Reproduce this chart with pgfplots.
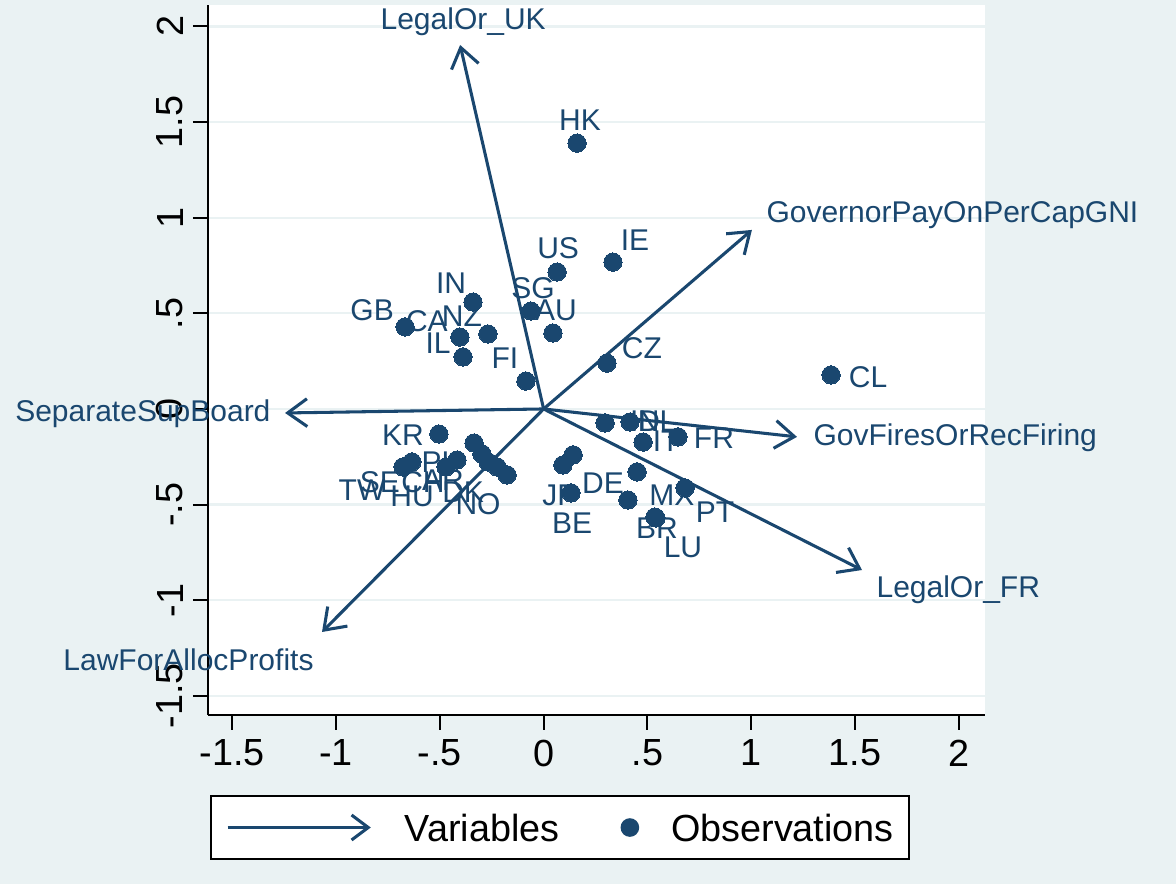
\documentclass[border=0pt]{standalone}
\usepackage{fontspec}
\setmainfont{Liberation Sans}
\usepackage{pgfplots}
\pgfplotsset{compat=1.18}
\usepackage{pgfplotstable}
\usetikzlibrary{arrows.meta,backgrounds}

\definecolor{stnavy}{RGB}{26,71,111}
\definecolor{stbg}{RGB}{234,242,243}

\tikzset{vlab/.style={text=stnavy, font=\fontsize{10.8}{13}\selectfont, inner sep=0pt}}
\pgfplotsset{arr/.style={stnavy, line width=1.1pt, -{Straight Barb[length=7pt,width=10pt]}, forget plot}}

% observations: scores, label offset (dx, dy) in pixels of the original
\pgfplotstableread{
x       y       dx   dy   label
 0.161   1.390    3  -23  HK
 0.334   0.768   22  -22  IE
 0.065   0.716    1  -24  US
-0.340   0.559  -22  -19  IN
-0.061   0.512    2  -23  SG
 0.045   0.397    3  -23  AU
-0.667   0.429  -33  -17  GB
-0.403   0.376  -33  -16  CA
-0.268   0.392  -26  -18  NZ
-0.388   0.272  -25  -14  IL
-0.085   0.146  -21  -23  FI
 0.305   0.240   35  -15  CZ
 1.384   0.178   37    2  CL
 0.416  -0.068   27   -1  NL
 0.479  -0.173   23   -1  IT
 0.647  -0.146   36    1  FR
 0.296  -0.073   40   -2  ID
 0.142  -0.240    0    0  {}
 0.093  -0.293   -3   30  JP
 0.132  -0.439    1   30  BE
 0.450  -0.329  -34   11  DE
 0.406  -0.476   44   -5  MX
 0.681  -0.413   30   24  PT
 0.536  -0.565    2   11  BR
 0.541  -0.570   27   29  LU
-0.504  -0.131  -36    1  KR
-0.335  -0.178  -34   19  PL
-0.297  -0.235  -59   28  CH
-0.268  -0.277  -45   18  AR
-0.224  -0.303  -34   25  DK
-0.176  -0.345  -29   29  NO
-0.417  -0.267    0    0  {}
-0.470  -0.303  -34   29  HU
-0.634  -0.277  -32   20  SE
-0.677  -0.303  -41   23  TW
}\obsdata

\begin{document}
\begin{tikzpicture}
\begin{axis}[
    name=ax,
    scale only axis,
    width=279.7pt, height=255.6pt,
    xmin=-1.616, xmax=2.125,
    ymin=-1.600, ymax=2.112,
    axis x line*=bottom, axis y line*=left,
    axis line style={line width=0.7pt, black},
    xtick={-1.5,-1,...,2},
    xticklabels={-1.5,-1,-.5,0,.5,1,1.5,2},
    ytick={-1.5,-1,...,2},
    yticklabels={-1.5,-1,-.5,0,.5,1,1.5,2},
    tick align=outside,
    major tick length=5.4pt,
    tick style={line width=0.7pt, black},
    ymajorgrids,
    grid style={stbg, line width=0.8pt},
    axis background/.style={fill=white},
    ticklabel style={font=\fontsize{13.6}{16}\selectfont},
    yticklabel style={rotate=90, anchor=south},
    clip=false,
    legend columns=2,
    legend style={at={(axis description cs:0.453,-0.1127)}, anchor=north,
        draw=black, line width=0.7pt, fill=white,
        font=\fontsize{13.6}{16}\selectfont,
        inner xsep=5.4pt, inner ysep=6.3pt,
        nodes={inner sep=0pt, text depth=0pt},
        /tikz/every odd column/.append style={column sep=11.5pt},
        /tikz/every even column/.append style={column sep=22pt},
        cells={anchor=west}},
]
\addlegendimage{legend image code/.code={\draw[stnavy, line width=1.1pt, -{Straight Barb[length=6pt,width=9pt]}] (0pt,0pt) -- (51.5pt,0pt);}}
\addlegendentry{Variables}
\addlegendimage{legend image code/.code={\fill[stnavy] (3pt,0pt) circle (3pt);}}
\addlegendentry{Observations}

% variables (loadings)
\addplot[arr] coordinates {(0,0) (-0.402,1.903)}
    node[pos=1, vlab, anchor=center, xshift=1.1pt, yshift=8.3pt] {LegalOr\_UK};
\addplot[arr] coordinates {(0,0) (1.003,0.936)}
    node[pos=1, vlab, anchor=west, xshift=4.7pt, yshift=5.4pt] {GovernorPayOnPerCapGNI};
\addplot[arr] coordinates {(0,0) (1.220,-0.146)}
    node[pos=1, vlab, anchor=west, xshift=5.4pt, yshift=-0.4pt] {GovFiresOrRecFiring};
\addplot[arr] coordinates {(0,0) (1.533,-0.842)}
    node[pos=1, vlab, anchor=west, xshift=4.7pt, yshift=-7.2pt] {LegalOr\_FR};
\addplot[arr] coordinates {(0,0) (-1.067,-1.166)}
    node[pos=1, vlab, anchor=east, xshift=-2.5pt, yshift=-10.1pt] {LawForAllocProfits};
\addplot[arr] coordinates {(0,0) (-1.245,-0.021)}
    node[pos=1, vlab, anchor=east, xshift=-4.7pt, yshift=-0.4pt] {SeparateSupBoard};

% observations
\addplot[only marks, mark=*, mark size=3.3pt,
    mark options={fill=stnavy, draw=stnavy, line width=0pt},
    forget plot,
    nodes near coords, point meta=explicit symbolic,
    visualization depends on={\thisrow{dx}\as\dx},
    visualization depends on={\thisrow{dy}\as\dy},
    every node near coord/.append style={anchor=center, inner sep=0pt,
        text=stnavy, font=\fontsize{10.8}{13}\selectfont,
        xshift={0.36pt*(\dx)}, yshift={-0.36pt*(\dy)}},
] table[x=x, y=y, meta=label] {\obsdata};
\end{axis}
\begin{scope}[on background layer]
\fill[stbg] ([xshift=-74.88pt,yshift=-60.84pt]ax.south west) rectangle ++(423.36pt,318.24pt);
\end{scope}
\pgfresetboundingbox
\path ([xshift=-74.88pt,yshift=-60.84pt]ax.south west) rectangle ++(423.36pt,318.24pt);
\end{tikzpicture}
\end{document}
